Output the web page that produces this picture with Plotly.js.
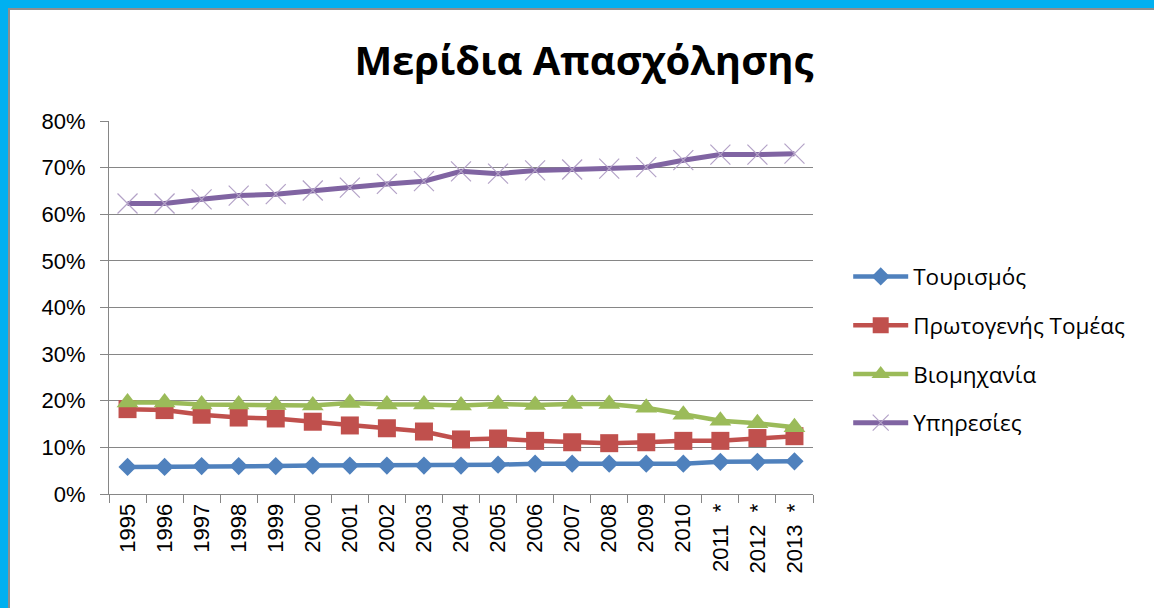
<!DOCTYPE html>
<html>
<head>
<meta charset="utf-8">
<script src="https://cdn.plot.ly/plotly-3.0.1.min.js"></script>
<style>
  html, body { margin: 0; padding: 0; background: #ffffff; }
  #wrap { position: relative; width: 1154px; height: 608px; overflow: hidden; }
  #chart { position: absolute; left: 0; top: 0; width: 1154px; height: 608px; }
  .bar { position: absolute; pointer-events: none; }
</style>
</head>
<body>
<div id="wrap">
  <div id="chart"></div>
  <div class="bar" style="left:0;top:0;width:1154px;height:8px;background:#00B0F0;"></div>
  <div class="bar" style="left:0;top:0;width:8px;height:608px;background:#00B0F0;"></div>
  <div class="bar" style="left:8px;top:8px;width:1146px;height:2px;background:#8E8E8E;"></div>
  <div class="bar" style="left:8px;top:8px;width:2px;height:600px;background:#8E8E8E;"></div>
</div>
<script>
const years = ["1995","1996","1997","1998","1999","2000","2001","2002","2003","2004",
               "2005","2006","2007","2008","2009","2010","2011\u00a0\u00a0*","2012\u00a0\u00a0*","2013\u00a0\u00a0*"];

const tourism   = [5.8, 5.8, 6.0, 6.0, 6.0, 6.1, 6.1, 6.1, 6.1, 6.1, 6.3, 6.5, 6.5, 6.5, 6.5, 6.5, 6.9, 6.9, 7.0];
const primary   = [18.2, 18.0, 17.0, 16.4, 16.2, 15.5, 14.7, 14.1, 13.4, 11.7, 11.9, 11.4, 11.1, 10.9, 11.1, 11.4, 11.4, 12.0, 12.4];
const industry  = [19.6, 19.6, 19.2, 19.2, 19.1, 19.0, 19.5, 19.2, 19.2, 19.0, 19.3, 19.1, 19.3, 19.3, 18.5, 17.0, 15.7, 15.2, 14.3];
const services  = [62.3, 62.3, 63.2, 64.0, 64.3, 65.1, 65.7, 66.5, 67.1, 69.2, 68.7, 69.4, 69.6, 69.8, 70.1, 71.6, 72.8, 72.8, 73.0];

const names = ["Τουρισμός", "Πρωτογενής Τομέας", "Βιομηχανία", "Υπηρεσίες"];
const pct = a => a.map(v => v / 100);

const traces = [
  { x: years, y: pct(tourism), name: names[0], legendgroup: "a", mode: "lines+markers",
    line: { color: "#4F81BD", width: 4.5 },
    marker: { symbol: "diamond", size: 14, color: "#4F81BD" } },
  { x: years, y: pct(primary), name: names[1], legendgroup: "b", mode: "lines+markers",
    line: { color: "#C0504D", width: 4.5 },
    marker: { symbol: "square", size: 18, color: "#C0504D" } },
  { x: years, y: pct(industry), name: names[2], legendgroup: "c", mode: "lines+markers",
    line: { color: "#9BBB59", width: 4.5 },
    marker: { symbol: "triangle-up", size: 19, color: "#9BBB59" } },
  { x: years, y: pct(services), name: names[3], legendgroup: "d", mode: "lines+markers",
    line: { color: "#8064A2", width: 5 },
    marker: { symbol: "x-thin", size: 20, color: "#B3A2C7", line: { color: "#B3A2C7", width: 1.2 } } }
];

const layout = {
  width: 1154, height: 608,
  paper_bgcolor: "#ffffff", plot_bgcolor: "#ffffff",
  margin: { l: 109, r: 341, t: 121, b: 114 },
  title: { text: "<b>Μερίδια Απασχόλησης</b>", x: 0.506, xref: "container", xanchor: "center",
           y: 0.9, yref: "container", yanchor: "middle",
           font: { family: "Open Sans, Noto Sans, sans-serif", size: 40, color: "#000000" } },
  showlegend: true,
  legend: { x: 1.05, xanchor: "left", y: 0.64, yanchor: "top", tracegroupgap: 16.5,
            traceorder: "grouped", itemwidth: 55,
            font: { family: "Open Sans, Noto Sans, sans-serif", size: 22.5, color: "#000000" },
            bgcolor: "rgba(0,0,0,0)" },
  xaxis: { type: "category", showgrid: false, showline: true, linecolor: "#868686", linewidth: 1,
           ticks: "outside", tickson: "boundaries", ticklen: 8, tickcolor: "#868686",
           tickangle: -90, tickfont: { family: "Liberation Sans, Arial, sans-serif", size: 22, color: "#000000" },
           range: [-0.5, 18.5], fixedrange: true },
  yaxis: { range: [0, 0.8], dtick: 0.1, tickformat: ".0%", showgrid: true, gridcolor: "#868686", gridwidth: 1,
           showline: true, linecolor: "#868686", linewidth: 1, ticks: "outside", ticklen: 8, tickcolor: "#868686",
           zeroline: false, ticklabelstandoff: 10,
           tickfont: { family: "Liberation Sans, Arial, sans-serif", size: 22, color: "#000000" }, fixedrange: true }
};

Plotly.newPlot("chart", traces, layout, { displayModeBar: false, staticPlot: true });
</script>
</body>
</html>
